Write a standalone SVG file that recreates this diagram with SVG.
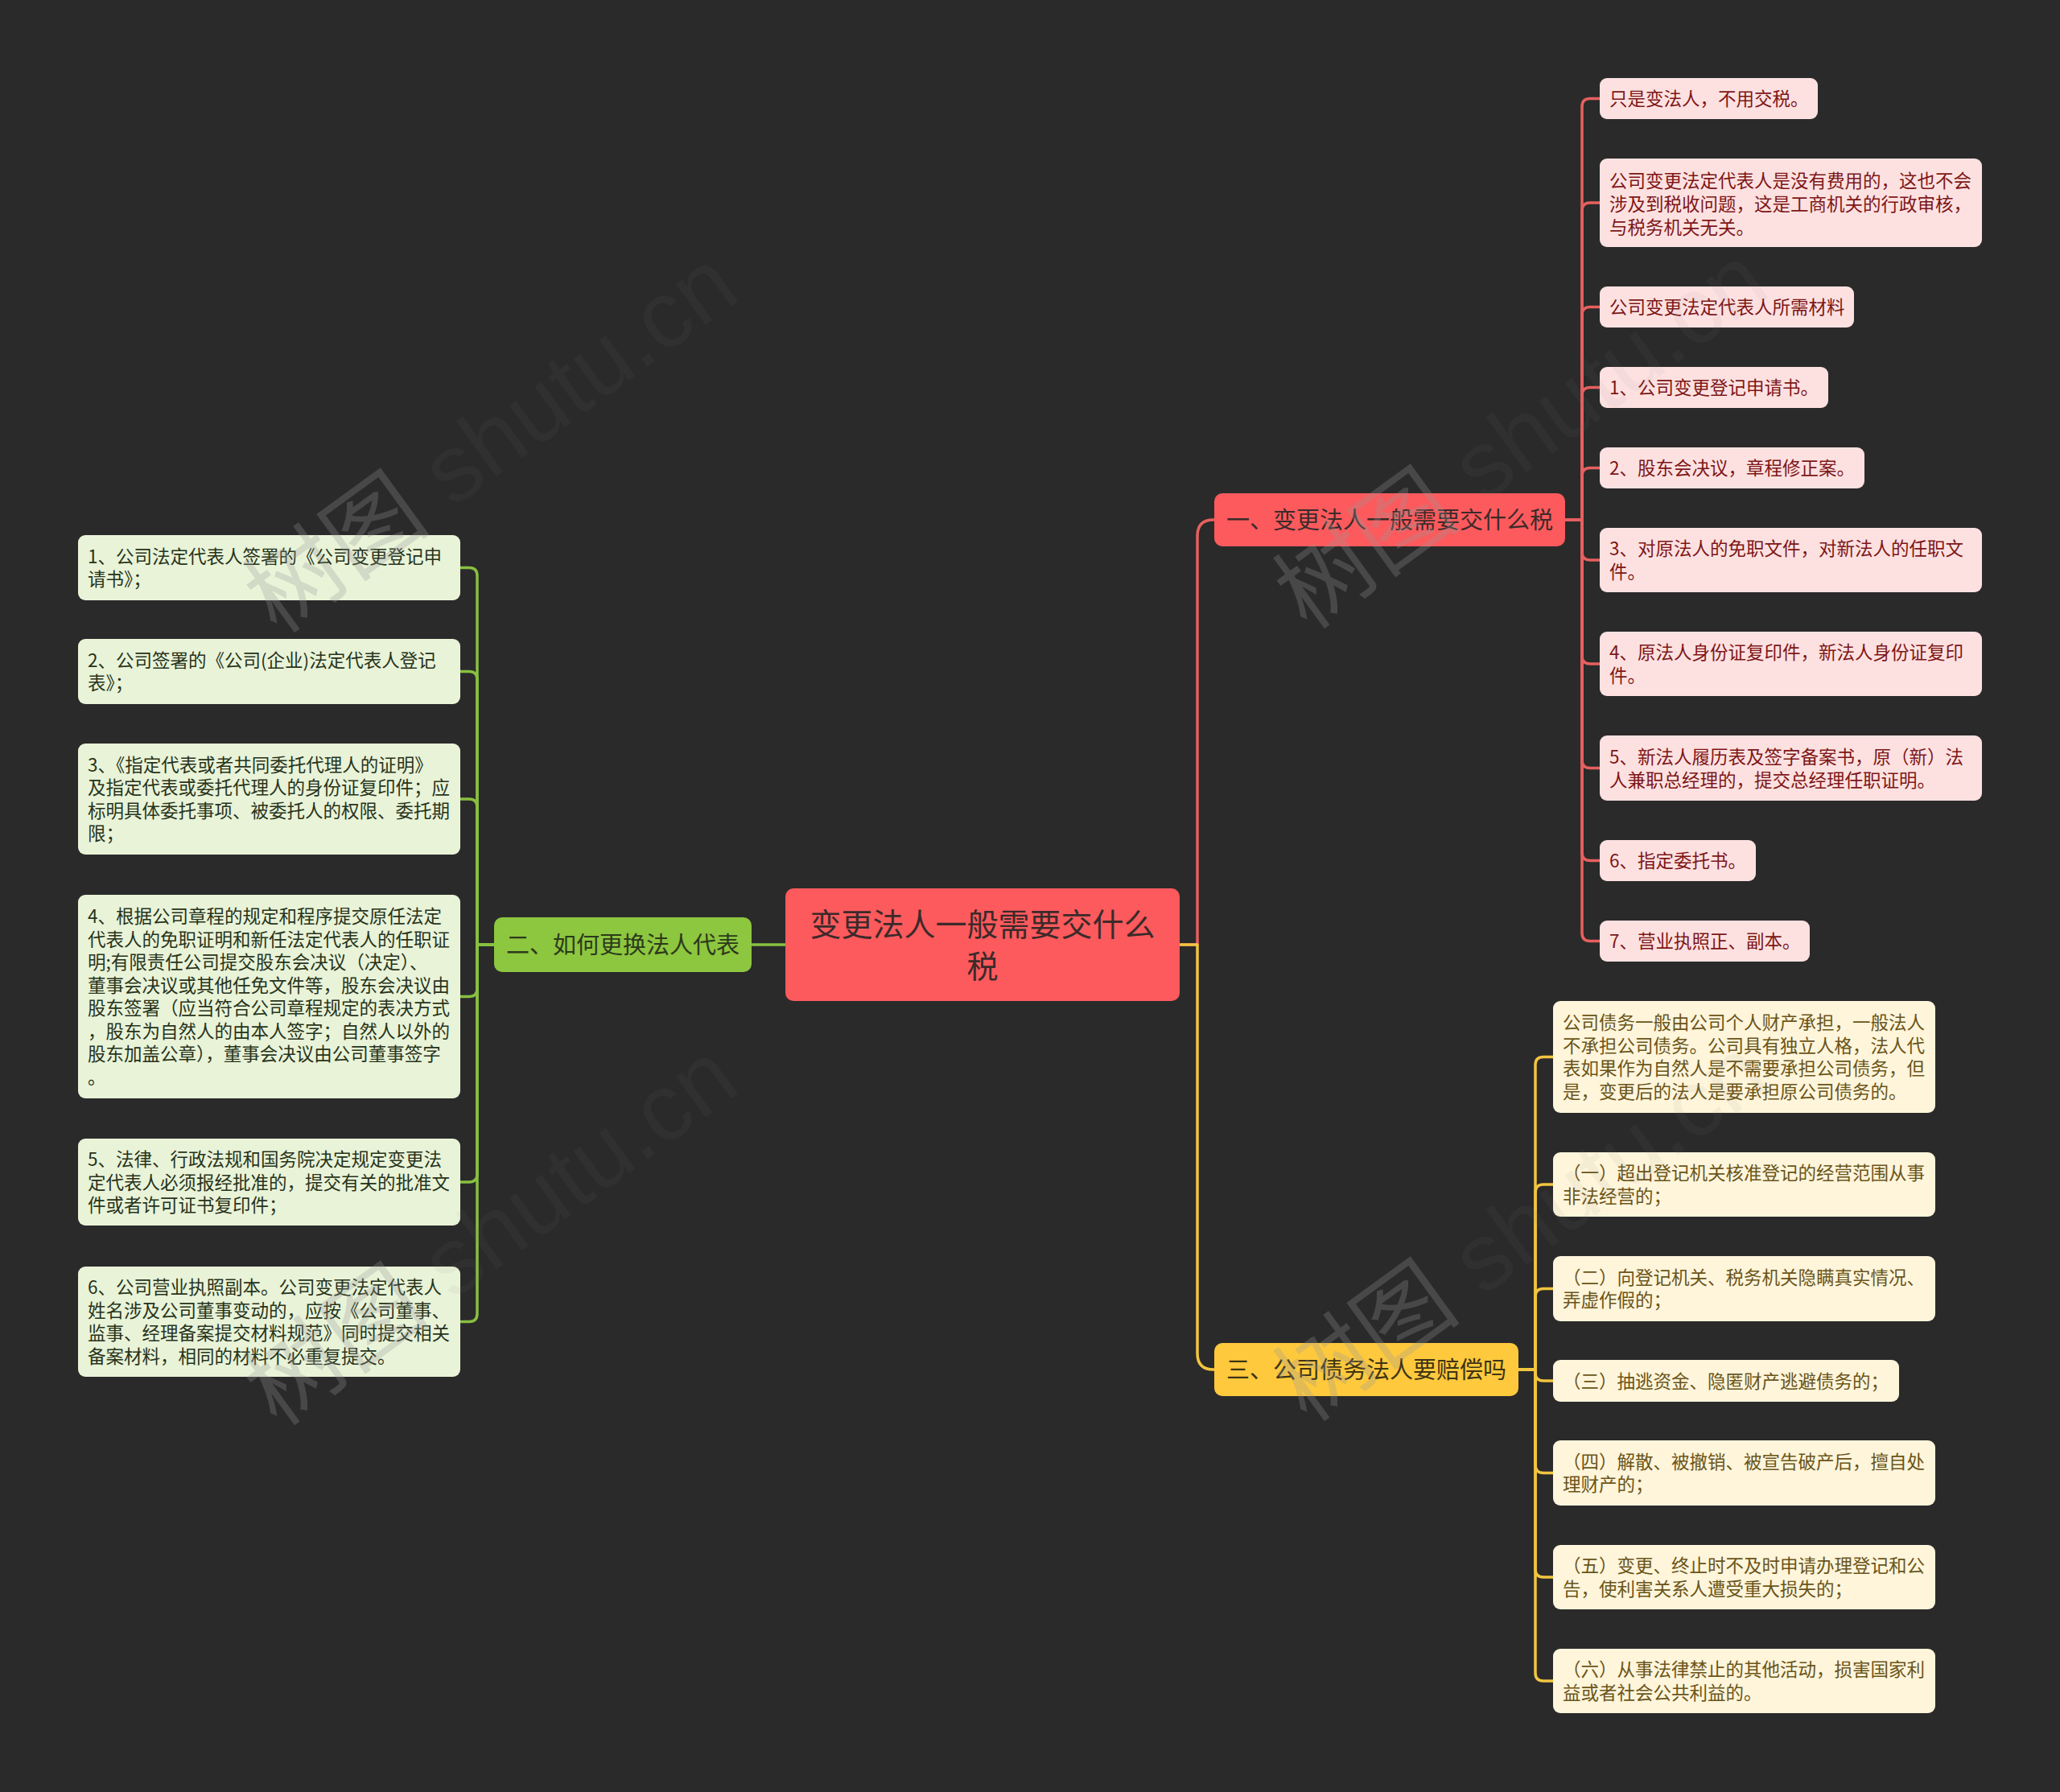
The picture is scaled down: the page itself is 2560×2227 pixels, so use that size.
<svg xmlns="http://www.w3.org/2000/svg" width="2560" height="2227" viewBox="0 0 2560 2227">
<style>
text{font-family:"Noto Sans CJK SC","Noto Sans",sans-serif;}
.root-box{fill:#FC5A5D;}
.root-t{font-size:39px;fill:#3C2A2A;text-anchor:middle;}
.b1{fill:#FC5A5D;}
.b2{fill:#8DC63F;}
.b3{fill:#FEC93D;}
.bt{font-size:29px;text-anchor:middle;}
.b1t{fill:#3C2A2A;}
.b2t{fill:#2C3A1C;}
.b3t{fill:#3F3414;}
.lr{fill:#FDE1E1;}
.lg{fill:#E9F3D8;}
.ly{fill:#FEF5DB;}
.lt{font-size:22.5px;}
.ltr{fill:#7D1616;}
.ltg{fill:#27331B;}
.lty{fill:#6A5418;}
.c{fill:none;stroke-width:3.5;stroke-linecap:round;stroke-linejoin:round;}
.cr{stroke:#E6605F;}
.cg{stroke:#88C040;}
.cy{stroke:#F2C540;}
.wm1{fill:#969696;fill-opacity:0.28;font-family:"Noto Sans CJK SC",sans-serif;}
.wm2{fill:#808080;fill-opacity:0.07;font-family:"Liberation Sans",sans-serif;}
</style>
<rect x="0" y="0" width="2560" height="2227" fill="#2A2A2A"/>

<g id="connectors">
  <path class="c cr" d="M1467,1174 H1488 V666 Q1488,646 1508,646 H1510"/>
  <path class="c cy" d="M1467,1174 H1488 V1682 Q1488,1702 1508,1702 H1510"/>
  <path class="c cg" d="M976,1174 H934"/>
  <path class="c cr" d="M1945,646 H1966 V132.5 Q1966,122.5 1976,122.5 H1990"/>
  <path class="c cr" d="M1945,646 H1966 V262 Q1966,252 1976,252 H1990"/>
  <path class="c cr" d="M1945,646 H1966 V391.5 Q1966,381.5 1976,381.5 H1990"/>
  <path class="c cr" d="M1945,646 H1966 V491.5 Q1966,481.5 1976,481.5 H1990"/>
  <path class="c cr" d="M1945,646 H1966 V591.5 Q1966,581.5 1976,581.5 H1990"/>
  <path class="c cr" d="M1945,646 H1966 V686 Q1966,696 1976,696 H1990"/>
  <path class="c cr" d="M1945,646 H1966 V815 Q1966,825 1976,825 H1990"/>
  <path class="c cr" d="M1945,646 H1966 V944.5 Q1966,954.5 1976,954.5 H1990"/>
  <path class="c cr" d="M1945,646 H1966 V1059.5 Q1966,1069.5 1976,1069.5 H1990"/>
  <path class="c cr" d="M1945,646 H1966 V1159.5 Q1966,1169.5 1976,1169.5 H1990"/>
  <path class="c cg" d="M614,1174 H593 V715.5 Q593,705.5 583,705.5 H570"/>
  <path class="c cg" d="M614,1174 H593 V844.5 Q593,834.5 583,834.5 H570"/>
  <path class="c cg" d="M614,1174 H593 V1003 Q593,993 583,993 H570"/>
  <path class="c cg" d="M614,1174 H593 V1228.5 Q593,1238.5 583,1238.5 H570"/>
  <path class="c cg" d="M614,1174 H593 V1459 Q593,1469 583,1469 H570"/>
  <path class="c cg" d="M614,1174 H593 V1632.5 Q593,1642.5 583,1642.5 H570"/>
  <path class="c cy" d="M1887,1702 H1908 V1323.5 Q1908,1313.5 1918,1313.5 H1932"/>
  <path class="c cy" d="M1887,1702 H1908 V1482 Q1908,1472 1918,1472 H1932"/>
  <path class="c cy" d="M1887,1702 H1908 V1611.5 Q1908,1601.5 1918,1601.5 H1932"/>
  <path class="c cy" d="M1887,1702 H1908 V1706 Q1908,1716 1918,1716 H1932"/>
  <path class="c cy" d="M1887,1702 H1908 V1820.5 Q1908,1830.5 1918,1830.5 H1932"/>
  <path class="c cy" d="M1887,1702 H1908 V1950 Q1908,1960 1918,1960 H1932"/>
  <path class="c cy" d="M1887,1702 H1908 V2079 Q1908,2089 1918,2089 H1932"/>
</g>

<g id="root">
  <rect class="root-box" x="976" y="1104" width="490" height="140" rx="10"/>
  <text class="root-t"><tspan x="1221" y="1163">变更法人一般需要交什么</tspan><tspan x="1221" y="1215">税</tspan></text>
</g>

<g id="branch1">
  <rect class="b1" x="1509" y="613" width="436" height="66" rx="10"/>
  <text class="bt b1t" x="1727" y="657">一、变更法人一般需要交什么税</text>
</g>
<g id="branch2">
  <rect class="b2" x="614" y="1140" width="320" height="68" rx="10"/>
  <text class="bt b2t" x="774" y="1185">二、如何更换法人代表</text>
</g>
<g id="branch3">
  <rect class="b3" x="1509" y="1669" width="378" height="66" rx="10"/>
  <text class="bt b3t" x="1698" y="1713">三、公司债务法人要赔偿吗</text>
</g>

<g id="r1"><rect class="lr" x="1988" y="97" width="271" height="51" rx="9"/>
  <text class="lt ltr" x="2000" y="131">只是变法人，不用交税。</text></g>
<g id="r2"><rect class="lr" x="1988" y="197" width="475" height="110" rx="9"/>
  <text class="lt ltr"><tspan x="2000" y="233">公司变更法定代表人是没有费用的，这也不会</tspan><tspan x="2000" y="262">涉及到税收问题，这是工商机关的行政审核，</tspan><tspan x="2000" y="291">与税务机关无关。</tspan></text></g>
<g id="r3"><rect class="lr" x="1988" y="356" width="316" height="51" rx="9"/>
  <text class="lt ltr" x="2000" y="390">公司变更法定代表人所需材料</text></g>
<g id="r4"><rect class="lr" x="1988" y="456" width="284" height="51" rx="9"/>
  <text class="lt ltr" x="2000" y="490">1、公司变更登记申请书。</text></g>
<g id="r5"><rect class="lr" x="1988" y="556" width="329" height="51" rx="9"/>
  <text class="lt ltr" x="2000" y="590">2、股东会决议，章程修正案。</text></g>
<g id="r6"><rect class="lr" x="1988" y="656" width="475" height="80" rx="9"/>
  <text class="lt ltr"><tspan x="2000" y="690">3、对原法人的免职文件，对新法人的任职文</tspan><tspan x="2000" y="719">件。</tspan></text></g>
<g id="r7"><rect class="lr" x="1988" y="785" width="475" height="80" rx="9"/>
  <text class="lt ltr"><tspan x="2000" y="819">4、原法人身份证复印件，新法人身份证复印</tspan><tspan x="2000" y="848">件。</tspan></text></g>
<g id="r8"><rect class="lr" x="1988" y="914" width="475" height="81" rx="9"/>
  <text class="lt ltr"><tspan x="2000" y="948.5">5、新法人履历表及签字备案书，原（新）法</tspan><tspan x="2000" y="977.5">人兼职总经理的，提交总经理任职证明。</tspan></text></g>
<g id="r9"><rect class="lr" x="1988" y="1044" width="194" height="51" rx="9"/>
  <text class="lt ltr" x="2000" y="1078">6、指定委托书。</text></g>
<g id="r10"><rect class="lr" x="1988" y="1144" width="261" height="51" rx="9"/>
  <text class="lt ltr" x="2000" y="1178">7、营业执照正、副本。</text></g>

<g id="g1"><rect class="lg" x="97" y="665" width="475" height="81" rx="9"/>
  <text class="lt ltg"><tspan x="109" y="700">1、公司法定代表人签署的《公司变更登记申</tspan><tspan x="109" y="728">请书》；</tspan></text></g>
<g id="g2"><rect class="lg" x="97" y="794" width="475" height="81" rx="9"/>
  <text class="lt ltg"><tspan x="109" y="829">2、公司签署的《公司(企业)法定代表人登记</tspan><tspan x="109" y="857">表》；</tspan></text></g>
<g id="g3"><rect class="lg" x="97" y="924" width="475" height="138" rx="9"/>
  <text class="lt ltg"><tspan x="109" y="959">3、《指定代表或者共同委托代理人的证明》</tspan><tspan x="109" y="987">及指定代表或委托代理人的身份证复印件；应</tspan><tspan x="109" y="1016">标明具体委托事项、被委托人的权限、委托期</tspan><tspan x="109" y="1044">限；</tspan></text></g>
<g id="g4"><rect class="lg" x="97" y="1112" width="475" height="253" rx="9"/>
  <text class="lt ltg"><tspan x="109" y="1147">4、根据公司章程的规定和程序提交原任法定</tspan><tspan x="109" y="1176">代表人的免职证明和新任法定代表人的任职证</tspan><tspan x="109" y="1204">明;有限责任公司提交股东会决议（决定）、</tspan><tspan x="109" y="1233">董事会决议或其他任免文件等，股东会决议由</tspan><tspan x="109" y="1261">股东签署（应当符合公司章程规定的表决方式</tspan><tspan x="109" y="1290">，股东为自然人的由本人签字；自然人以外的</tspan><tspan x="109" y="1318">股东加盖公章），董事会决议由公司董事签字</tspan><tspan x="109" y="1347">。</tspan></text></g>
<g id="g5"><rect class="lg" x="97" y="1415" width="475" height="108" rx="9"/>
  <text class="lt ltg"><tspan x="109" y="1449">5、法律、行政法规和国务院决定规定变更法</tspan><tspan x="109" y="1478">定代表人必须报经批准的，提交有关的批准文</tspan><tspan x="109" y="1506">件或者许可证书复印件；</tspan></text></g>
<g id="g6"><rect class="lg" x="97" y="1574" width="475" height="137" rx="9"/>
  <text class="lt ltg"><tspan x="109" y="1608">6、公司营业执照副本。公司变更法定代表人</tspan><tspan x="109" y="1637">姓名涉及公司董事变动的，应按《公司董事、</tspan><tspan x="109" y="1665">监事、经理备案提交材料规范》同时提交相关</tspan><tspan x="109" y="1694">备案材料，相同的材料不必重复提交。</tspan></text></g>

<g id="y1"><rect class="ly" x="1930" y="1244" width="475" height="139" rx="9"/>
  <text class="lt lty"><tspan x="1942" y="1279">公司债务一般由公司个人财产承担，一般法人</tspan><tspan x="1942" y="1308">不承担公司债务。公司具有独立人格，法人代</tspan><tspan x="1942" y="1336">表如果作为自然人是不需要承担公司债务，但</tspan><tspan x="1942" y="1365">是，变更后的法人是要承担原公司债务的。</tspan></text></g>
<g id="y2"><rect class="ly" x="1930" y="1432" width="475" height="80" rx="9"/>
  <text class="lt lty"><tspan x="1942" y="1466">（一）超出登记机关核准登记的经营范围从事</tspan><tspan x="1942" y="1495">非法经营的；</tspan></text></g>
<g id="y3"><rect class="ly" x="1930" y="1561" width="475" height="81" rx="9"/>
  <text class="lt lty"><tspan x="1942" y="1596">（二）向登记机关、税务机关隐瞒真实情况、</tspan><tspan x="1942" y="1624">弄虚作假的；</tspan></text></g>
<g id="y4"><rect class="ly" x="1930" y="1690" width="430" height="52" rx="9"/>
  <text class="lt lty" x="1942" y="1724.5">（三）抽逃资金、隐匿财产逃避债务的；</text></g>
<g id="y5"><rect class="ly" x="1930" y="1790" width="475" height="81" rx="9"/>
  <text class="lt lty"><tspan x="1942" y="1825">（四）解散、被撤销、被宣告破产后，擅自处</tspan><tspan x="1942" y="1853">理财产的；</tspan></text></g>
<g id="y6"><rect class="ly" x="1930" y="1920" width="475" height="80" rx="9"/>
  <text class="lt lty"><tspan x="1942" y="1954">（五）变更、终止时不及时申请办理登记和公</tspan><tspan x="1942" y="1983">告，使利害关系人遭受重大损失的；</tspan></text></g>
<g id="y7"><rect class="ly" x="1930" y="2049" width="475" height="80" rx="9"/>
  <text class="lt lty"><tspan x="1942" y="2083">（六）从事法律禁止的其他活动，损害国家利</tspan><tspan x="1942" y="2112">益或者社会公共利益的。</tspan></text></g>

<g id="watermarks" font-size="118">
  <text transform="translate(345,790) rotate(-36)"><tspan class="wm1">树图</tspan><tspan class="wm2"> shutu.cn</tspan></text>
  <text transform="translate(1625,785) rotate(-36)"><tspan class="wm1">树图</tspan><tspan class="wm2"> shutu.cn</tspan></text>
  <text transform="translate(345,1775) rotate(-36)"><tspan class="wm1">树图</tspan><tspan class="wm2"> shutu.cn</tspan></text>
  <text transform="translate(1625,1770) rotate(-36)"><tspan class="wm1">树图</tspan><tspan class="wm2"> shutu.cn</tspan></text>
</g>
</svg>
